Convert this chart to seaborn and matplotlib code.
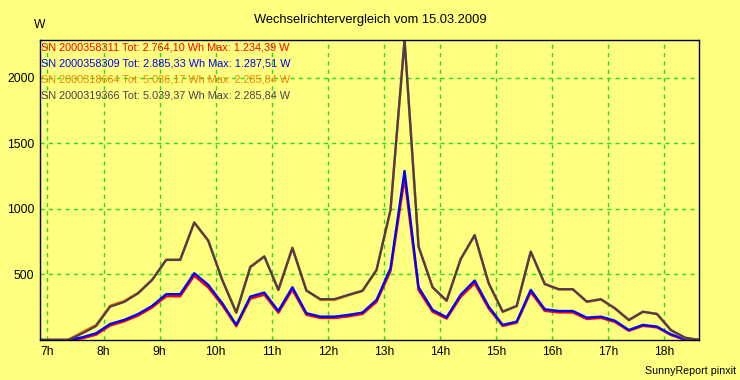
import pandas
import seaborn
import matplotlib
matplotlib.use("Agg")
import matplotlib.pyplot as plot


# 15-minute readings from 06:52 to 18:37
times = pandas.date_range("2009-03-15 06:52", periods=48, freq="15min")
hours = times.hour + times.minute / 60.0

serials = ["SN 2000358311", "SN 2000358309", "SN 2000318664", "SN 2000319366"]
labels = [
    "SN 2000358311 Tot: 2.764,10 Wh Max: 1.234,39 W",
    "SN 2000358309 Tot: 2.885,33 Wh Max: 1.287,51 W",
    "SN 2000318664 Tot: 5.036,17 Wh Max: 2.285,84 W",
    "SN 2000319366 Tot: 5.039,37 Wh Max: 2.285,84 W",
]
colors = ["#FF0000", "#0000FF", "#FF8000", "#503C50"]

w_358311 = [0, 0, 0, 12, 40, 110, 142, 186, 248, 333, 333, 490, 400, 265, 105, 315,
            345, 208, 383, 192, 168, 168, 180, 198, 290, 525, 1234, 380, 215, 163, 328, 432,
            240, 107, 132, 365, 222, 210, 210, 160, 168, 138, 70, 108, 96, 38, 3, 0]
w_358309 = [0, 0, 0, 20, 51, 122, 153, 198, 260, 349, 349, 509, 420, 280, 115, 331,
            361, 221, 402, 204, 178, 178, 191, 209, 305, 547, 1288, 402, 229, 173, 344, 453,
            254, 115, 140, 382, 234, 221, 221, 170, 178, 147, 76, 115, 102, 43, 5, 0]
w_318664 = [0, 0, 0, 60, 115, 262, 298, 360, 460, 610, 610, 893, 755, 455, 207, 560,
            638, 380, 705, 380, 305, 305, 340, 372, 530, 990, 2286, 710, 400, 298, 615, 797,
            430, 214, 258, 672, 425, 385, 385, 290, 308, 240, 150, 213, 200, 72, 15, 0]
w_319366 = [0, 0, 0, 50, 107, 254, 290, 356, 458, 611, 611, 896, 758, 458, 209, 555,
            636, 382, 700, 376, 311, 311, 344, 376, 534, 992, 2286, 712, 402, 300, 616, 799,
            433, 216, 260, 674, 427, 387, 387, 293, 311, 242, 153, 216, 198, 76, 18, 0]

df = pandas.concat([
    pandas.DataFrame({"hour": hours, "W": vals, "sn": sn})
    for sn, vals in zip(serials, [w_358311, w_358309, w_318664, w_319366])
])

bg = "#FFFF80"
plot.rcParams["font.family"] = ["Liberation Sans", "DejaVu Sans"]
plot.rcParams["font.size"] = 8.5

fig = plot.figure(figsize=(7.4, 3.8), dpi=100, facecolor=bg)
ax = fig.add_axes([40 / 740, 40 / 380, 659 / 740, 300 / 380])
ax.set_facecolor(bg)

seaborn.lineplot(data=df, x="hour", y="W", hue="sn", hue_order=serials,
                 palette=colors, linewidth=1.7, legend=False, ax=ax)

ax.set_xlim(hours[0], hours[-1])
ax.set_ylim(0, 2285.84)
ax.set_xticks(range(7, 19), [f"{h}h" for h in range(7, 19)])
ax.set_yticks([500, 1000, 1500, 2000])
ax.tick_params(length=0, pad=4, labelsize=8.7, colors="black")
ax.grid(True, color="#22DD22", linestyle=(0, (3, 3)), linewidth=1)
ax.set_axisbelow(True)
ax.set_xlabel("")
ax.set_ylabel("")
for s in ax.spines.values():
    s.set_color("black")
    s.set_linewidth(1)

for i, (lab, col) in enumerate(zip(labels, colors)):
    fig.text(41 / 740, 1 - (48 + 16 * i) / 380, lab, color=col, va="center", ha="left", fontsize=7.8)

fig.text(370 / 740, 1 - 20 / 380, "Wechselrichtervergleich vom 15.03.2009", ha="center", va="center", fontsize=9.3)
fig.text(34 / 740, 1 - 25 / 380, "W", ha="left", va="center", fontsize=8.7)
fig.text(736 / 740, 1 - 371 / 380, "SunnyReport pinxit", ha="right", va="center", fontsize=7.7)

fig.savefig("out.png", dpi=100, facecolor=bg)
